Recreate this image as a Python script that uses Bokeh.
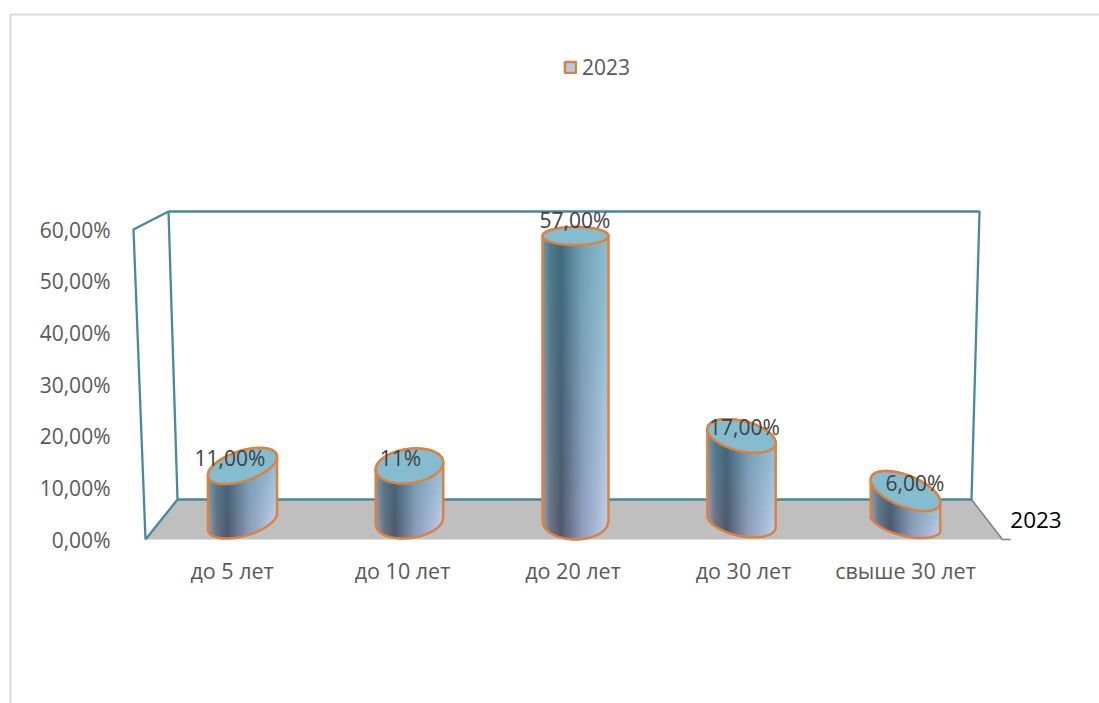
import numpy as np
from bokeh.core.properties import value
from bokeh.embed import file_html
from bokeh.models import FixedTicker, Legend, LegendItem, LinearAxis, Range1d
from bokeh.plotting import figure
from bokeh.resources import INLINE

# ---- chart data -------------------------------------------------------
categories = ["до 5 лет", "до 10 лет", "до 20 лет", "до 30 лет", "свыше 30 лет"]
series_name = "2023"
values = [11, 11, 57, 17, 6]
value_labels = ["11,00%", "11%", "57,00%", "17,00%", "6,00%"]
y_ticks = [0, 10, 20, 30, 40, 50, 60]
y_tick_labels = ["0,00%", "10,00%", "20,00%", "30,00%", "40,00%", "50,00%", "60,00%"]

# ---- layout (screen geometry of the 3-D look) ---------------------------
W, H = 1099, 703
PAGE = 0
X0_PX, X_STEP = 231.5, 170.5      # screen x of category 0, spacing
Y0_PX, Y_STEP = 539.0, 310 / 60   # screen y of value 0, px per unit on the front edge
DEPTH_STEP = 5.0                  # px per unit at the depth of the cylinders
BASE_PX = 520.5

x_data = lambda px: (np.asarray(px, float) - X0_PX) / X_STEP
y_data = lambda py: (Y0_PX - np.asarray(py, float)) / Y_STEP

dx_cyl = [10.5, 7, 2.5, -2, -8.5]     # perspective shift of each cylinder
top_a = [36, 34, 33, 35, 37]
top_b = [15, 17, 9, 15, 15.5]
bot_b = [15, 17, 18.5, 15, 15]
tilt = [18, 8, 0, -14, -22]           # degrees
bot_tilt = [16, 8, 0, -12, -14]
label_dy = [-8.5, -8.5, -16.5, -9.5, -8.5]
label_dx = [-2, -2, 2, 1, 1]
tick_pos = [0, 1, 2, 3, 3.95]

TEAL = "#468a9f"
ORANGE = "#e0803f"
TOP_BLUE = "#85bdd0"
FLOOR = "#bfbfbf"
GRAY = "#7f7f7f"
TXT = "#404040"
FONT = "Open Sans"

p = figure(width=W, height=H, output_backend="svg", toolbar_location=None,
           x_axis_location=None, y_axis_location=None, min_border=0,
           x_range=Range1d(float(x_data(PAGE)), float(x_data(PAGE + W))),
           y_range=Range1d(float(y_data(PAGE + H)), float(y_data(PAGE))))
p.grid.visible = False
p.outline_line_color = None
p.background_fill_color = "white"


def seg(xs, ys, color, w):
    p.line(x_data(xs), y_data(ys), line_color=color, line_width=w)


# chart border
seg([10, 10, W], [H, 14, 14], "#d9d9d9", 2)

# floor
p.patch(x_data([145, 177, 971, 1002]), y_data([539, 499, 499, 539]), fill_color=FLOOR, line_color=None)
seg([971, 1002, 1010], [499, 539, 539], GRAY, 1.5)
# walls
seg([145, 133, 168, 177, 145], [539, 229, 211, 499, 539], TEAL, 2.3)
seg([168, 979, 971, 177], [211, 211, 499, 499], TEAL, 2.3)


def ellipse_pts(cx, cy, a, b, deg, n=120):
    t = np.linspace(0, 2 * np.pi, n)
    r = np.radians(deg)
    ex, ey = a * np.cos(t), b * np.sin(t)
    # screen y grows downwards: a positive tilt raises the right side
    return cx + ex * np.cos(r) + ey * np.sin(r), cy - ex * np.sin(r) + ey * np.cos(r)


stops_u = [0.0, 0.12, 0.28, 0.6, 1.0]
top_cols = np.array([[0x66, 0x9c, 0xae], [0x4a, 0x7c, 0x8e], [0x40, 0x6c, 0x7e], [0x6f, 0xa1, 0xb5], [0x88, 0xbe, 0xd0]], float)
bot_cols = np.array([[0x98, 0xa2, 0xb0], [0x6c, 0x74, 0x86], [0x50, 0x58, 0x6c], [0x90, 0x9d, 0xbb], [0xc2, 0xd0, 0xea]], float)


def shade(u, v):
    rgb = [np.interp(u, stops_u, top_cols[:, k]) * (1 - v) + np.interp(u, stops_u, bot_cols[:, k]) * v for k in range(3)]
    return "#%02x%02x%02x" % tuple(int(round(c)) for c in rgb)


def env(ex, ey, x, upper):
    """Upper (smallest screen y) or lower edge of a closed ellipse at the given x."""
    n = len(ex) - 1
    il, ir = int(np.argmin(ex[:-1])), int(np.argmax(ex[:-1]))
    seq1 = [(il + s) % n for s in range(((ir - il) % n) + 1)]
    seq2 = [(ir + s) % n for s in range(((il - ir) % n) + 1)][::-1]
    y1 = np.interp(x, ex[seq1], ey[seq1]) if ex[seq1[0]] < ex[seq1[-1]] else np.interp(x, ex[seq1][::-1], ey[seq1][::-1])
    y2 = np.interp(x, ex[seq2], ey[seq2]) if ex[seq2[0]] < ex[seq2[-1]] else np.interp(x, ex[seq2][::-1], ey[seq2][::-1])
    return np.minimum(y1, y2) if upper else np.maximum(y1, y2)


quads_x, quads_y, quads_c = [], [], []
outl_x, outl_y, top_x, top_y = [], [], [], []
label_y = []
for i, val in enumerate(values):
    cx = X0_PX + i * X_STEP + dx_cyl[i]
    top_py = BASE_PX - val * DEPTH_STEP
    label_y.append(float(y_data(top_py + label_dy[i])))
    tx, ty = ellipse_pts(cx, top_py, top_a[i], top_b[i], tilt[i])
    bx, by = ellipse_pts(cx, BASE_PX, top_a[i], bot_b[i], bot_tilt[i])

    left = max(tx.min(), bx.min())
    right = min(tx.max(), bx.max())
    xs = np.linspace(left, right, int(right - left) + 1)
    y_up = env(tx, ty, xs, True)
    y_lo = env(bx, by, xs, False)
    m = max(6, min(20, int((y_lo.max() - y_up.min()) / 8)))
    last = len(xs) - 2
    for j in range(len(xs) - 1):
        u = (j + 0.5) / (len(xs) - 1)
        x1 = xs[j + 1] + (1.0 if j < last else 0.0)     # overlap to hide seams
        for k in range(m):
            f0, f1 = k / m, (k + 1) / m
            yl0 = y_up[j] + (y_lo[j] - y_up[j]) * f0
            yl1 = y_up[j] + (y_lo[j] - y_up[j]) * f1
            yr0 = y_up[j + 1] + (y_lo[j + 1] - y_up[j + 1]) * f0
            yr1 = y_up[j + 1] + (y_lo[j + 1] - y_up[j + 1]) * f1
            ov = 1.0 if k < m - 1 else 0.0
            quads_x.append(x_data([xs[j], x1, x1, xs[j]]))
            quads_y.append(y_data([yl0, yr0, yr1 + ov, yl1 + ov]))
            quads_c.append(shade(u, (k + 0.5) / m))
    outl_x.append(x_data(np.r_[left, xs, right, xs[::-1]]))
    outl_y.append(y_data(np.r_[y_up[0], y_lo, y_up[-1], y_up[::-1]]))
    top_x.append(x_data(tx))
    top_y.append(y_data(ty))

p.patches(quads_x, quads_y, fill_color=quads_c, line_color=None)
p.patches(outl_x, outl_y, fill_color=None, line_color=ORANGE, line_width=2.5)
tops = p.patches(top_x, top_y, fill_color=TOP_BLUE, line_color=ORANGE, line_width=2.5)

# legend swatch renderer
swatch = p.patches([[]], [[]], fill_color="#b0cde2", line_color=ORANGE, line_width=2.5)

# data labels
p.text([i + d / X_STEP for i, d in enumerate(label_dx)], label_y, text=value_labels, text_align="center",
       text_baseline="middle", text_color=TXT, text_font=value(FONT), text_font_size="21px")

# depth axis label
p.text([float(x_data(1035.5))], [float(y_data(519.5))], text=[series_name], text_align="center", text_baseline="middle",
       text_color="#000000", text_font=value(FONT), text_font_size="22.5px")

# axes
yax = LinearAxis(fixed_location=float(x_data(130)), ticker=FixedTicker(ticks=y_ticks),
                 major_label_overrides=dict(zip(y_ticks, y_tick_labels)))
xax = LinearAxis(fixed_location=0, ticker=FixedTicker(ticks=tick_pos),
                 major_label_overrides=dict(zip(tick_pos, categories)))
for ax, st, fs in ((yax, 14, "21px"), (xax, 10, "21.5px")):
    ax.axis_line_color = None
    ax.major_tick_line_color = None
    ax.minor_tick_line_color = None
    ax.major_label_standoff = st
    ax.major_label_text_color = "#595959"
    ax.major_label_text_font = FONT
    ax.major_label_text_font_size = fs
p.add_layout(yax, "left")
p.add_layout(xax, "below")

legend = Legend(items=[LegendItem(label=series_name, renderers=[swatch])], location=(563, 622),
                background_fill_alpha=0, border_line_color=None, glyph_width=14, glyph_height=14,
                label_text_color="#595959", label_text_font=FONT, label_text_font_size="21px",
                label_standoff=5)
p.add_layout(legend)

open("out.html", "w").write(file_html(p, INLINE))
